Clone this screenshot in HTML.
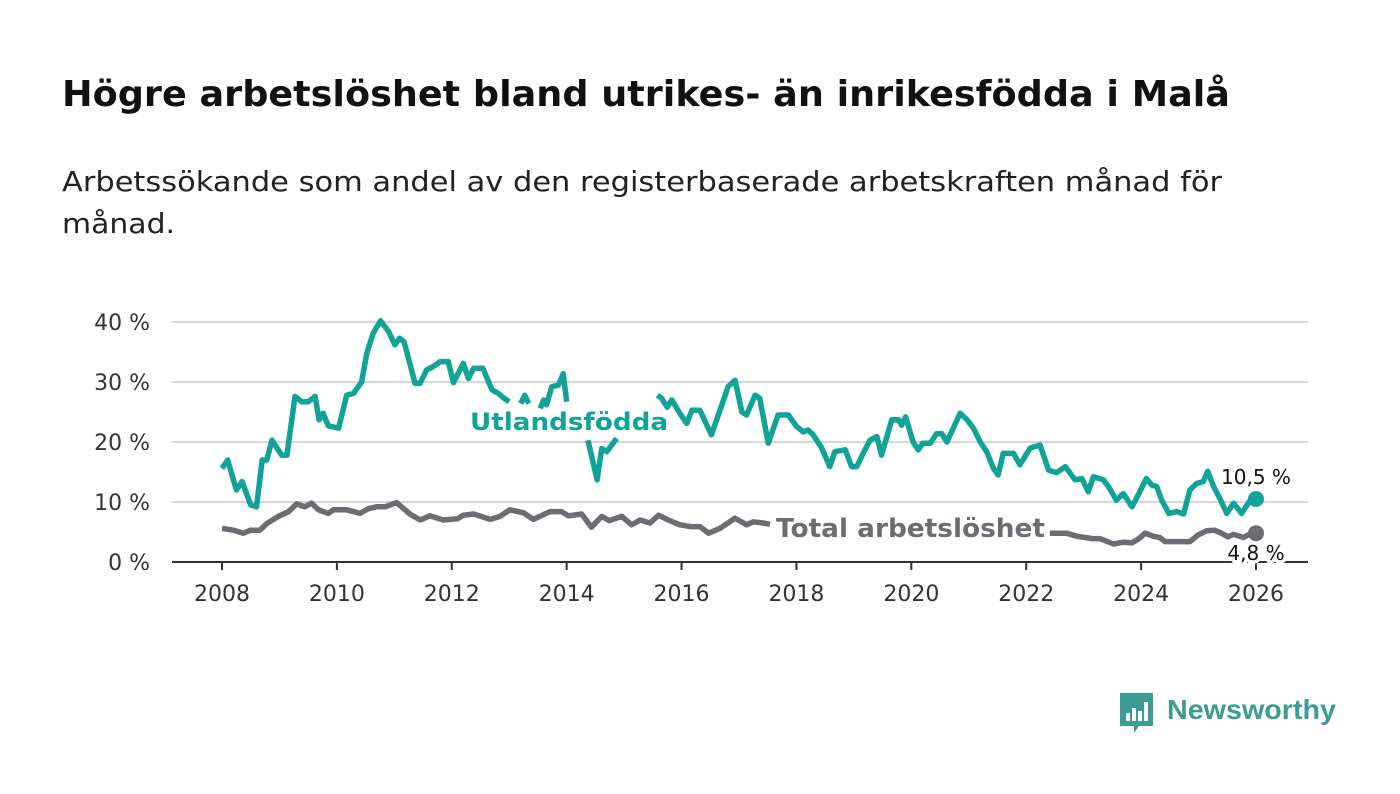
<!DOCTYPE html>
<html><head><meta charset="utf-8">
<style>
body{margin:0;width:1400px;height:794px;background:#fff;overflow:hidden;font-family:"DejaVu Sans","Liberation Sans",sans-serif;}
svg{position:absolute;left:0;top:0}
</style></head>
<body>
<svg id="chart" width="1400" height="794">
<text x="62" y="106" font-size="36" font-weight="bold" fill="#111" textLength="1168" lengthAdjust="spacingAndGlyphs">Högre arbetslöshet bland utrikes- än inrikesfödda i Malå</text>
<text x="62" y="191" font-size="28" fill="#222" textLength="1160" lengthAdjust="spacingAndGlyphs">Arbetssökande som andel av den registerbaserade arbetskraften månad för</text>
<text x="62" y="233" font-size="28" fill="#222" textLength="113" lengthAdjust="spacingAndGlyphs">månad.</text>
<g id="grid"></g><g id="series"></g><g id="labels"></g>
<g>
<path d="M1120 693 h33 v33 h-14 l-5 7 v-7 h-14z" fill="#3a9c93"/>
<rect x="1126" y="713" width="4" height="8" fill="#fff"/><rect x="1132" y="708" width="4" height="13" fill="#fff"/><rect x="1138" y="711" width="4" height="10" fill="#fff"/><rect x="1144" y="702" width="4" height="19" fill="#fff"/>
<text x="1167" y="719" font-size="28" font-weight="bold" fill="#3a9c93" font-family="Liberation Sans, sans-serif" textLength="169" lengthAdjust="spacingAndGlyphs">Newsworthy</text>
</g>
</svg>
<script>
const yTicks=[0,10,20,30,40];
const xTicks=[2008,2010,2012,2014,2016,2018,2020,2022,2024,2026];
const foreignT=[2008.0,2008.1,2008.25,2008.35,2008.5,2008.6,2008.7,2008.78,2008.87,2009.04,2009.13,2009.27,2009.39,2009.5,2009.62,2009.69,2009.76,2009.85,2010.03,2010.17,2010.29,2010.43,2010.52,2010.63,2010.76,2010.9,2011.01,2011.09,2011.17,2011.36,2011.45,2011.56,2011.68,2011.8,2011.94,2012.03,2012.2,2012.29,2012.38,2012.54,2012.7,2012.81,2012.91,2013.0,2013.1,2013.2,2013.27,2013.34,2013.45,2013.54,2013.6,2013.65,2013.74,2013.86,2013.94,2014.0,2014.2,2014.37,2014.53,2014.61,2014.7,2014.87,2014.95,2015.2,2015.55,2015.58,2015.65,2015.75,2015.83,2015.97,2016.09,2016.18,2016.32,2016.52,2016.67,2016.81,2016.93,2017.05,2017.13,2017.28,2017.36,2017.51,2017.68,2017.86,2018.0,2018.12,2018.2,2018.29,2018.44,2018.58,2018.67,2018.85,2018.96,2019.05,2019.16,2019.28,2019.4,2019.48,2019.66,2019.78,2019.83,2019.9,2020.03,2020.12,2020.2,2020.33,2020.44,2020.53,2020.62,2020.85,2020.97,2021.08,2021.2,2021.31,2021.43,2021.51,2021.6,2021.78,2021.89,2022.07,2022.24,2022.39,2022.53,2022.68,2022.85,2022.97,2023.08,2023.17,2023.34,2023.43,2023.57,2023.69,2023.84,2023.92,2024.09,2024.19,2024.27,2024.36,2024.48,2024.62,2024.74,2024.85,2024.97,2025.08,2025.16,2025.26,2025.37,2025.49,2025.61,2025.75,2025.9,2026.0];
const foreignV=[15.6,17,12,13.4,9.5,9.2,17,17,20.3,17.8,17.8,27.6,26.7,26.7,27.6,23.7,24.8,22.7,22.3,27.8,28.1,30,34.8,38.1,40.2,38.4,36.2,37.3,36.7,29.8,29.8,32,32.6,33.4,33.4,29.9,33.1,30.6,32.3,32.3,28.7,28.1,27.3,26.7,null,26.4,27.8,26.4,null,25.6,27,26.2,29.2,29.5,31.4,26.7,null,20.3,13.7,18.9,18.4,20.6,null,null,null,27.8,27.3,25.8,27,24.8,23.1,25.3,25.3,21.2,25.3,29.2,30.3,25,24.5,27.8,27.3,19.8,24.5,24.5,22.6,21.7,22,21.2,19,15.9,18.4,18.7,15.9,15.9,18.1,20.3,20.9,17.8,23.7,23.7,22.8,24.2,20,18.7,19.8,19.8,21.4,21.4,20,24.8,23.7,22.3,20,18.4,15.6,14.5,18.1,18.1,16.2,19,19.5,15.3,14.9,15.9,13.7,13.9,11.7,14.2,13.7,12.6,10.3,11.4,9.2,10.6,13.9,12.8,12.6,10.3,8.1,8.4,8,12,13.1,13.4,15.1,12.6,10.6,8.1,9.8,8.1,10.3,10.5];
const totalT=[2008.0,2008.2,2008.37,2008.5,2008.66,2008.78,2008.98,2009.16,2009.3,2009.44,2009.56,2009.68,2009.85,2009.94,2010.17,2010.4,2010.55,2010.69,2010.84,2011.04,2011.27,2011.45,2011.62,2011.85,2012.1,2012.2,2012.38,2012.67,2012.84,2013.01,2013.25,2013.42,2013.71,2013.91,2014.03,2014.26,2014.43,2014.61,2014.74,2014.96,2015.13,2015.28,2015.45,2015.6,2015.77,2015.97,2016.15,2016.32,2016.47,2016.67,2016.93,2017.13,2017.25,2017.42,2017.54,2017.6,2022.35,2022.41,2022.7,2022.88,2023.15,2023.28,2023.52,2023.69,2023.84,2023.95,2024.07,2024.21,2024.32,2024.42,2024.85,2024.99,2025.14,2025.28,2025.4,2025.51,2025.61,2025.78,2025.9,2026.0];
const totalV=[5.6,5.3,4.8,5.3,5.3,6.4,7.6,8.4,9.7,9.2,9.8,8.7,8.1,8.7,8.7,8.1,8.9,9.2,9.2,9.9,8,7,7.7,7,7.2,7.8,8,7.1,7.6,8.7,8.2,7.1,8.4,8.4,7.7,8,5.8,7.6,6.9,7.6,6.2,7,6.5,7.8,7,6.2,5.9,5.9,4.8,5.6,7.3,6.2,6.7,6.5,6.3,null,null,4.8,4.8,4.3,3.9,3.9,3.0,3.3,3.2,3.8,4.8,4.3,4.1,3.4,3.4,4.5,5.2,5.3,4.8,4.2,4.6,4.1,4.7,4.8];
const NS='http://www.w3.org/2000/svg';
const X0=172,X1=1308;
const xs=t=>222+(t-2008)*(1256-222)/18;
const ys=v=>562-v*6;
function mk(tag,attrs,parent,txt){const e=document.createElementNS(NS,tag);for(const k in attrs)e.setAttribute(k,attrs[k]);if(txt!=null)e.textContent=txt;parent.appendChild(e);return e;}
const grid=document.getElementById('grid');
yTicks.forEach(v=>{
 if(v>0){const l=mk('line',{x1:X0,x2:X1,y1:ys(v),y2:ys(v),stroke:'#d6d6d6','stroke-width':2},grid);
 
 }
 const t=mk('text',{x:150,y:ys(v)+8,'font-size':22,fill:'#333','text-anchor':'end'},grid,v+' %');
 
 
});
const ax=mk('line',{x1:X0,x2:X1,y1:562,y2:562,stroke:'#333','stroke-width':2},grid);


xTicks.forEach(y=>{
 const l=mk('line',{x1:xs(y),x2:xs(y),y1:562,y2:570,stroke:'#333','stroke-width':2},grid);
 
 
 const t=mk('text',{x:xs(y),y:601,'font-size':22,fill:'#333','text-anchor':'middle'},grid,String(y));
 
 
});
function pathD(T,V){let d='',pen=false;T.forEach((t,i)=>{const v=V[i];if(v==null){pen=false;return;}d+=(pen?'L':'M')+xs(t).toFixed(1)+' '+ys(v).toFixed(1);pen=true;});return d;}
const sg=document.getElementById('series');
const p1=mk('path',{d:pathD(totalT,totalV),fill:'none',stroke:'#6e6b73','stroke-width':5.5,'stroke-linejoin':'round'},sg);


const p2=mk('path',{d:pathD(foreignT,foreignV),fill:'none',stroke:'#12a398','stroke-width':5.5,'stroke-linejoin':'round'},sg);


const d1=mk('circle',{cx:xs(foreignT[foreignT.length-1]),cy:ys(foreignV[foreignV.length-1]),r:8,fill:'#12a398'},sg);


const d2=mk('circle',{cx:xs(totalT[totalT.length-1]),cy:ys(totalV[totalV.length-1]),r:8,fill:'#6e6b73'},sg);


const lg=document.getElementById('labels');
function lab(txt,x,y,size,color,bold,name,anchor,len){const a={x:x,y:y,'font-size':size,fill:color,'font-weight':bold?'bold':'normal','text-anchor':anchor||'start',stroke:'#fff','stroke-width':7,'paint-order':'stroke','stroke-linejoin':'round'};if(len){a.textLength=len;a.lengthAdjust='spacingAndGlyphs';}
 const t=mk('text',a,lg,txt);
 
 }
lab('Utlandsfödda',470,430,24,'#12a398',true,'foreign-born-label','start',198);
lab('Total arbetslöshet',776,537,26,'#6e6b73',true,'total-label','start',269);
lab(String(foreignV[foreignV.length-1]).replace('.',',')+' %',xs(2026),484,20,'#111',false,'foreign-born-end-value','middle');
lab(String(totalV[totalV.length-1]).replace('.',',')+' %',xs(2026),560,20,'#111',false,'total-end-value','middle');
</script>
</body></html>
